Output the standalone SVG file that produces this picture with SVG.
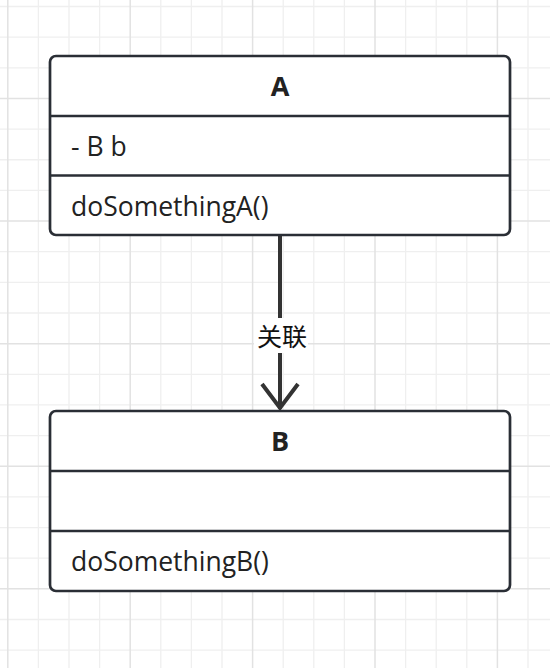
<svg xmlns="http://www.w3.org/2000/svg" width="550" height="668" viewBox="0 0 550 668">
<style>
.minor{stroke:#efefef;stroke-width:1.3;fill:none}
.major{stroke:#e2e2e2;stroke-width:1.5;fill:none}
.box{fill:#ffffff;stroke:#2a2e35;stroke-width:2.7}
.div{stroke:#2a2e35;stroke-width:2.7}
.t{font-family:"Open Sans","Noto Sans",sans-serif;font-size:26.5px;fill:#222222}
.title{font-family:"Open Sans","Noto Sans",sans-serif;font-size:27px;font-weight:bold;fill:#222222;text-anchor:middle}
.edge{stroke:#333333;stroke-width:4;fill:none}
.lbl{font-family:"Noto Sans CJK SC","Noto Sans",sans-serif;font-size:25px;fill:#111111;text-anchor:middle}
</style>
<rect width="550" height="668" fill="#ffffff"/>
<g id="grid">
<path class="minor" d="M38.4 0V668M69 0V668M99.6 0V668M160.8 0V668M191.4 0V668M222 0V668M283.2 0V668M313.8 0V668M344.4 0V668M405.6 0V668M436.2 0V668M466.8 0V668M528 0V668"/>
<path class="minor" d="M0 6.5H550M0 37.15H550M0 67.8H550M0 129.1H550M0 159.75H550M0 190.4H550M0 251.7H550M0 282.35H550M0 313H550M0 374.3H550M0 404.95H550M0 435.6H550M0 496.9H550M0 527.55H550M0 558.2H550M0 619.5H550M0 650.15H550"/>
<path class="major" d="M7.8 0V668M130.2 0V668M252.6 0V668M375 0V668M497.4 0V668"/>
<path class="major" d="M0 98.45H550M0 221.05H550M0 343.65H550M0 466.25H550M0 588.85H550"/>
</g>
<g id="connectors">
<path class="edge" d="M280 236V409"/>
<path class="edge" d="M262 384L280 408L298 384"/>
<rect x="254" y="318" width="54" height="35" fill="#ffffff"/>
<text class="lbl" x="282" y="346">关联</text>
</g>
<g id="A">
<rect class="box" x="50" y="56" width="460" height="179" rx="6"/>
<line class="div" x1="50" y1="116" x2="510" y2="116"/>
<line class="div" x1="50" y1="175.5" x2="510" y2="175.5"/>
<text class="title" x="280" y="96">A</text>
<text class="t" x="71" y="156">- B b</text>
<text class="t" x="71" y="216">doSomethingA()</text>
</g>
<g id="B">
<rect class="box" x="50" y="411" width="460" height="180" rx="6"/>
<line class="div" x1="50" y1="471" x2="510" y2="471"/>
<line class="div" x1="50" y1="531" x2="510" y2="531"/>
<text class="title" x="280" y="451">B</text>
<text class="t" x="71" y="571">doSomethingB()</text>
</g>
</svg>
